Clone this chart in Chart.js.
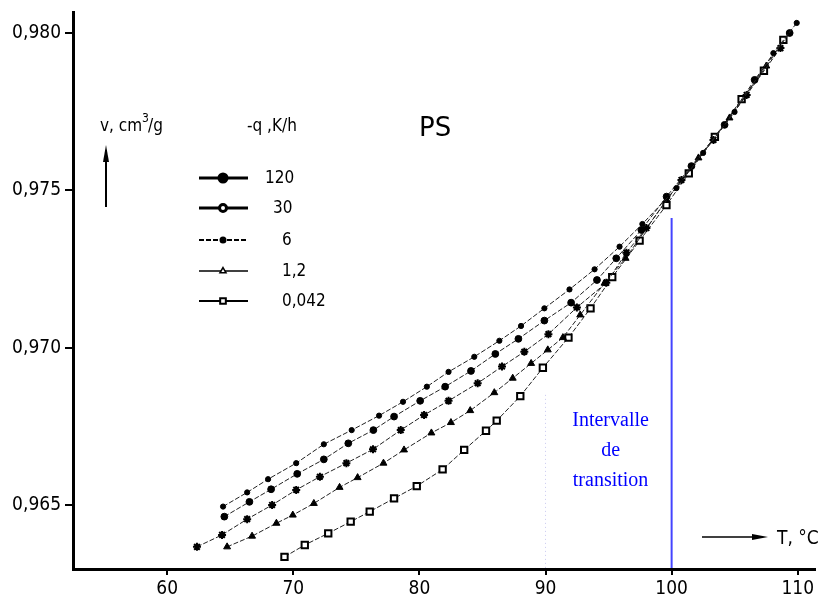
<!DOCTYPE html>
<html>
<head>
<meta charset="utf-8">
<script src="https://cdn.jsdelivr.net/npm/chart.js@4.4.1/dist/chart.umd.min.js"></script>
<style>
  html, body { margin: 0; padding: 0; background: #fff; }
  #wrap { width: 821px; height: 600px; }
</style>
</head>
<body>
<div id="wrap"><canvas id="psChart" width="821" height="600"></canvas></div>
<script>
// Values (T in °C, v in cm3/g)
const rateLabels = ["120", "30", "6", "1,2", "0,042"];

const temp120 = [64.43, 66.34, 68.00, 70.23, 72.42, 74.63, 76.80, 78.70, 80.59, 82.31, 84.35, 86.34, 88.06, 89.91, 91.90, 93.89, 95.87, 97.68, 100.38, 102.50, 104.99, 108.07, 109.92];
const vol120 = [0.96495, 0.96540, 0.96582, 0.96633, 0.96693, 0.96738, 0.96784, 0.96828, 0.96876, 0.96923, 0.96971, 0.97022, 0.97069, 0.97125, 0.97185, 0.97249, 0.97321, 0.97393, 0.97507, 0.97619, 0.97749, 0.97936, 0.98032];

const temp30 = [64.53, 66.52, 68.24, 70.31, 72.42, 74.36, 76.35, 77.99, 80.06, 82.04, 84.09, 86.02, 87.85, 89.91, 92.03, 94.08, 95.61, 97.60, 99.60, 101.57, 104.20, 106.58, 109.36];
const vol30 = [0.96463, 0.96510, 0.96550, 0.96599, 0.96645, 0.96696, 0.96738, 0.96781, 0.96831, 0.96876, 0.96926, 0.96980, 0.97028, 0.97086, 0.97143, 0.97215, 0.97284, 0.97374, 0.97480, 0.97577, 0.97708, 0.97851, 0.98000];

const temp6 = [62.36, 64.35, 66.34, 68.32, 70.23, 72.11, 74.21, 76.32, 78.52, 80.37, 82.31, 84.62, 86.55, 88.32, 90.23, 92.49, 94.82, 96.41, 98.00, 100.78, 103.32, 105.95, 108.63];
const vol6 = [0.96367, 0.96405, 0.96455, 0.96500, 0.96548, 0.96590, 0.96633, 0.96677, 0.96738, 0.96786, 0.96831, 0.96887, 0.96940, 0.96987, 0.97043, 0.97128, 0.97206, 0.97302, 0.97380, 0.97533, 0.97660, 0.97803, 0.97952];

const temp12 = [64.75, 66.73, 68.66, 69.96, 71.63, 73.67, 75.10, 77.15, 78.78, 80.95, 82.50, 84.03, 85.94, 87.40, 88.86, 90.18, 91.38, 92.75, 94.68, 96.35, 99.59, 102.13, 104.59, 107.51];
const vol12 = [0.96367, 0.96401, 0.96442, 0.96468, 0.96505, 0.96556, 0.96587, 0.96633, 0.96675, 0.96729, 0.96762, 0.96800, 0.96857, 0.96903, 0.96950, 0.96993, 0.97032, 0.97104, 0.97205, 0.97284, 0.97469, 0.97603, 0.97730, 0.97895];

const temp0042 = [69.30, 70.91, 72.77, 74.55, 76.06, 77.99, 79.79, 81.84, 83.55, 85.28, 86.13, 88.00, 89.79, 91.82, 93.57, 95.29, 97.46, 99.59, 101.36, 103.43, 105.55, 107.32, 108.86];
const vol0042 = [0.96335, 0.96373, 0.96410, 0.96447, 0.96479, 0.96521, 0.96560, 0.96613, 0.96675, 0.96736, 0.96768, 0.96846, 0.96936, 0.97032, 0.97125, 0.97224, 0.97340, 0.97453, 0.97554, 0.97670, 0.97790, 0.97880, 0.97978];

const xTicks = [60, 70, 80, 90, 100, 110];
const yTicks = [0.965, 0.970, 0.975, 0.980];

// transition interval (°C)
const transitionStart = 90;
const transitionEnd = 100;

const narrowFont = "'DejaVu Sans Condensed', 'Liberation Sans Narrow', Arial, sans-serif";

function toPoints(xs, ys) {
    return xs.map((t, i) => ({ x: t, y: ys[i] }));
}

function makeSeries(label, xs, ys, style) {
    return Object.assign({
        label: label,
        data: toPoints(xs, ys),
        showLine: true,
        borderColor: "#222",
        borderWidth: 1,
        borderDash: [5, 2],
        pointBorderColor: "#000",
        pointBackgroundColor: "#000",
        pointHoverRadius: 0,
        tension: 0
    }, style);
}

const datasets = [
    makeSeries(rateLabels[0], temp120, vol120, { pointStyle: "circle", pointRadius: 2.6, pointBorderWidth: 1,
        legend: { fill: true, lineWidth: 3, dash: [], radius: 4 } }),
    makeSeries(rateLabels[1], temp30, vol30, { pointStyle: "circle", pointRadius: 3.4, pointBorderWidth: 1,
        legend: { fill: false, lineWidth: 3, dash: [], radius: 3.5 } }),
    makeSeries(rateLabels[2], temp6, vol6, { pointStyle: "star", pointRadius: 4, pointBorderWidth: 2,
        legend: { fill: true, lineWidth: 2, dash: [5, 2], radius: 2.5, style: "circle" } }),
    makeSeries(rateLabels[3], temp12, vol12, { pointStyle: "triangle", pointRadius: 4, pointBorderWidth: 1,
        legend: { fill: false, lineWidth: 1.5, dash: [], radius: 3.5 } }),
    makeSeries(rateLabels[4], temp0042, vol0042, { pointStyle: "rect", pointRadius: 4.5, pointBorderWidth: 2,
        pointBackgroundColor: "#fff",
        legend: { fill: false, lineWidth: 2, dash: [], radius: 4 } })
];

// Extra drawing: transition interval, legend, axis captions
const annotations = {
    id: "annotations",
    afterDraw(chart) {
        const ctx = chart.ctx;
        const xs = chart.scales.x;
        const ys = chart.scales.y;
        ctx.save();

        // dotted start of transition
        const x90 = xs.getPixelForValue(transitionStart);
        ctx.strokeStyle = "#c8c8f0";
        ctx.lineWidth = 1;
        ctx.setLineDash([1, 3]);
        ctx.beginPath();
        ctx.moveTo(x90, ys.getPixelForValue(0.9685));
        ctx.lineTo(x90, ys.bottom);
        ctx.stroke();

        // solid end of transition
        const x100 = xs.getPixelForValue(transitionEnd);
        ctx.setLineDash([]);
        ctx.strokeStyle = "#4444ff";
        ctx.lineWidth = 2;
        ctx.beginPath();
        ctx.moveTo(x100, ys.getPixelForValue(0.97412));
        ctx.lineTo(x100, ys.bottom - 1);
        ctx.stroke();

        ctx.fillStyle = "#0000ff";
        ctx.font = "20px 'Liberation Serif', 'Times New Roman', serif";
        ctx.textAlign = "center";
        ctx.textBaseline = "middle";
        const cx = (x90 + x100) / 2 + 2;
        ctx.fillText("Intervalle", cx, 421);
        ctx.fillText("de", cx, 451);
        ctx.fillText("transition", cx, 481);

        // captions
        ctx.fillStyle = "#000";
        ctx.textAlign = "left";
        ctx.textBaseline = "alphabetic";
        ctx.font = "17px " + narrowFont;
        ctx.fillText("v, cm", 100, 131);
        let w = ctx.measureText("v, cm").width;
        ctx.font = "12px " + narrowFont;
        ctx.fillText("3", 100 + w, 122);
        ctx.font = "17px " + narrowFont;
        ctx.fillText("/g", 100 + w + 6, 131);
        ctx.fillText("-q ,K/h", 247, 131);

        ctx.font = "26px 'DejaVu Sans', sans-serif";
        ctx.fillText("PS", 419, 136);

        // vertical arrow under v
        ctx.strokeStyle = "#000";
        ctx.lineWidth = 2;
        ctx.beginPath();
        ctx.moveTo(106, 207);
        ctx.lineTo(106, 150);
        ctx.stroke();
        ctx.beginPath();
        ctx.moveTo(106, 145);
        ctx.lineTo(109, 162);
        ctx.lineTo(103, 162);
        ctx.closePath();
        ctx.fill();

        // T arrow
        ctx.lineWidth = 1.5;
        ctx.beginPath();
        ctx.moveTo(702, 537);
        ctx.lineTo(760, 537);
        ctx.stroke();
        ctx.beginPath();
        ctx.moveTo(768, 537);
        ctx.lineTo(752, 534);
        ctx.lineTo(752, 540);
        ctx.closePath();
        ctx.fill();
        ctx.font = "19px " + narrowFont;
        ctx.fillText("T, °C", 777, 544);

        // legend
        const rowY = [178, 208, 240, 271, 301];
        const labelX = [265, 273, 282, 282, 282];
        chart.data.datasets.forEach((ds, i) => {
            const lg = ds.legend;
            const y = rowY[i];
            ctx.strokeStyle = "#000";
            ctx.lineWidth = lg.lineWidth;
            ctx.setLineDash(lg.dash);
            ctx.beginPath();
            ctx.moveTo(199, y);
            ctx.lineTo(248, y);
            ctx.stroke();
            ctx.setLineDash([]);
            ctx.fillStyle = lg.fill ? "#000" : "#fff";
            ctx.strokeStyle = "#000";
            Chart.helpers.drawPoint(ctx, {
                pointStyle: lg.style || ds.pointStyle,
                radius: lg.radius,
                borderWidth: 1.5,
                rotation: 0
            }, 223, y);
            ctx.fillStyle = "#000";
            ctx.font = "17px " + narrowFont;
            ctx.textBaseline = "middle";
            ctx.fillText(ds.label, labelX[i], y + 1);
            ctx.textBaseline = "alphabetic";
        });
        ctx.restore();
    }
};

const ctx = document.getElementById("psChart").getContext("2d");
new Chart(ctx, {
    type: "scatter",
    data: { datasets: datasets },
    options: {
        responsive: false,
        animation: false,
        layout: { padding: { top: 12, right: 1, left: 0, bottom: 0 } },
        plugins: {
            legend: { display: false },
            tooltip: { enabled: false }
        },
        scales: {
            x: {
                type: "linear",
                min: 52.53,
                max: 111.33,
                afterFit(scale) {
                    scale.height = 31;
                    scale.paddingLeft = 0;
                    scale.paddingRight = 0;
                },
                afterBuildTicks(scale) { scale.ticks = xTicks.map(v => ({ value: v })); },
                border: { display: true, color: "#000", width: 3 },
                grid: { drawOnChartArea: false, drawTicks: true, tickLength: 6, color: "#000", lineWidth: 2 },
                ticks: {
                    color: "#000",
                    padding: 3,
                    maxRotation: 0,
                    font: { family: narrowFont, size: 19 },
                    callback: v => String(v)
                }
            },
            y: {
                type: "linear",
                min: 0.962966,
                max: 0.980667,
                afterFit(scale) {
                    scale.width = 73;
                    scale.paddingTop = 0;
                    scale.paddingBottom = 0;
                },
                afterBuildTicks(scale) { scale.ticks = yTicks.map(v => ({ value: v })); },
                border: { display: true, color: "#000", width: 3 },
                grid: { drawOnChartArea: false, drawTicks: true, tickLength: 8, color: "#000", lineWidth: 2 },
                ticks: {
                    color: "#000",
                    padding: 4,
                    font: { family: narrowFont, size: 19 },
                    callback: v => v.toFixed(3).replace(".", ",")
                }
            }
        }
    },
    plugins: [annotations]
});
</script>
</body>
</html>
